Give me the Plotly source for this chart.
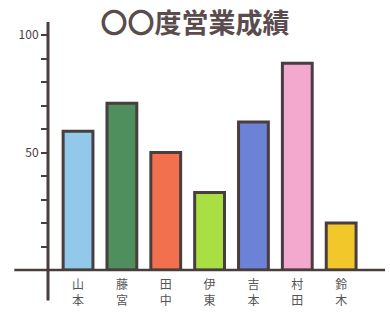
import plotly.graph_objects as go

title_text = "〇〇度営業成績"
names = ["山本", "藤宮", "田中", "伊東", "吉本", "村田", "鈴木"]
values = [59, 71, 50, 33, 63, 88, 20]
colors = ["#92c9ea", "#4f8f5e", "#f2704e", "#a9df42", "#6b82d6", "#f2a9cd", "#f2c72a"]
ytick_vals = [50, 100]
ytick_text = ["50", "100"]

ink = "#4a3d3e"
fig = go.Figure()
fig.add_trace(go.Bar(
    x=list(range(len(names))),
    y=values,
    width=0.68,
    marker=dict(color=colors, line=dict(color=ink, width=3)),
    hoverinfo="skip",
))

fig.update_layout(
    width=390, height=313,
    margin=dict(l=48, r=5, t=35, b=43),
    paper_bgcolor="white", plot_bgcolor="white",
    showlegend=False,
    font=dict(family="Noto Sans CJK JP", color="#555"),
    title=dict(text="<b>" + title_text + "</b>", x=0.5, xanchor="center", y=0.925, yanchor="middle",
               font=dict(size=27, color="#5a4c4d", family="Noto Sans CJK JP")),
    xaxis=dict(
        range=[-0.685, 7.0],
        tickmode="array",
        tickvals=list(range(len(names))),
        ticktext=[n[0] + "<br>" + n[1] for n in names],
        tickfont=dict(size=12, color="#555", family="Noto Sans CJK JP"),
        ticklabelstandoff=6,
        showgrid=False, zeroline=False, showline=False, ticks="",
    ),
    yaxis=dict(
        range=[0, 100],
        tickmode="array", tickvals=ytick_vals, ticktext=ytick_text,
        tickfont=dict(size=12, color="#4a3d3e"),
        ticks="outside", ticklen=6, tickwidth=1.5, tickcolor=ink,
        minor=dict(dtick=10, ticks="outside", ticklen=6, tickwidth=1.5, tickcolor=ink),
        showgrid=False, zeroline=False, showline=False,
    ),
    bargap=0.3,
)

fig.add_shape(type="line", xref="paper", yref="paper", x0=-0.1, x1=1.0, y0=0, y1=0,
              line=dict(color=ink, width=2.5), layer="above")
fig.add_shape(type="line", xref="paper", yref="paper", x0=0, x1=0, y0=-0.13, y1=1.055,
              line=dict(color=ink, width=3), layer="above")

fig.write_html("out.html", config={"displayModeBar": False},
               post_script="document.body.style.margin='0';")
